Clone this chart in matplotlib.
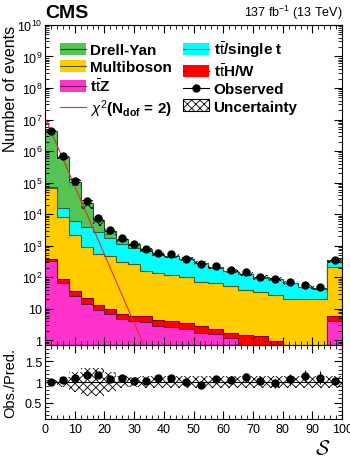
import numpy as np
import matplotlib
matplotlib.use('Agg')
import matplotlib.pyplot as plt
from matplotlib.patches import Patch
from matplotlib.lines import Line2D
from matplotlib.ticker import LogLocator, FuncFormatter, MultipleLocator, NullFormatter

plt.rcParams['font.family'] = ['Liberation Sans', 'DejaVu Sans']
plt.rcParams['mathtext.fontset'] = 'custom'
plt.rcParams['mathtext.rm'] = 'Liberation Sans'
plt.rcParams['mathtext.it'] = 'Liberation Sans:italic'
plt.rcParams['mathtext.bf'] = 'Liberation Sans:bold'
plt.rcParams['hatch.linewidth'] = 0.6
plt.rcParams['axes.unicode_minus'] = False

# bin edges: 4-wide up to 40, 5-wide up to 100 (last bin = overflow)
edges = np.array([0, 4, 8, 12, 16, 20, 24, 28, 32, 36, 40,
                  45, 50, 55, 60, 65, 70, 75, 80, 85, 90, 95, 100])

# expected events per process
ttz = [331, 63, 25.7, 14.1, 9.1, 6.6, 4.8, 4.0, 3.7, 2.9, 2.6,
       2.3, 1.74, 1.58, 1.2, 0.5, 0.4, 0.3, 0.3, 0.2, 0.2, 4.1]
tthw = [32, 24, 11.5, 7.3, 4.4, 2.9, 1.8, 2.0, 2.2, 1.5, 1.4,
        1.3, 1.1, 0.7, 0.54, 1.0, 1.0, 0.65, 0.33, 0.35, 0.3, 1.8]
multiboson = [65700, 7856, 2101, 891, 536, 469, 288, 251, 152, 127.6, 116,
              96.4, 69.5, 62.3, 50.8, 36.5, 32.5, 26, 20.3, 19.4, 19.5, 198]
ttbar = [4720, 7193, 4028, 2890, 2080, 1219, 827, 575, 518, 369, 337,
         272, 199, 132, 103, 83, 61.5, 59.8, 41.8, 26.9, 22.2, 131]
drellyan = [4.335e6, 638000, 98300, 17880, 3622, 1127, 459, 267, 77, 47, 27,
            12, 8, 6, 5, 4, 3, 3, 2, 2, 2, 5]
observed = np.array([4365000, 691800, 114800, 25120, 7244, 3020, 1738, 1122, 776, 603, 537,
                     380, 257, 219, 170, 141, 102, 87, 69, 56, 49, 347])
# relative systematic uncertainty on the prediction
unc_rel = np.array([0.05, 0.12, 0.25, 0.33, 0.33, 0.25, 0.15, 0.12, 0.15, 0.15, 0.15,
                    0.15, 0.15, 0.14, 0.14, 0.14, 0.15, 0.15, 0.15, 0.15, 0.15, 0.15])
# chi2 (2 dof) normalisation
chi2_scale = 2.3e7

labels = ['t$\\bar{\\rm t}$Z', 't$\\bar{\\rm t}$H/W', 'Multiboson', 't$\\bar{\\rm t}$/single t', 'Drell-Yan']
fcolors = ['#ff33cc', '#ff0000', '#ffcc00', '#00ffff', '#55c455']
ecolors = ['#6a1050', '#800000', '#4a5a20', '#1f6a50', '#1f5a1f']

stack = np.vstack([ttz, tthw, multiboson, ttbar, drellyan])
cum = np.cumsum(stack, axis=0)
total = cum[-1]
centers = 0.5 * (edges[:-1] + edges[1:])

fig = plt.figure(figsize=(3.5, 4.64), dpi=100)
ax = fig.add_axes([0.1286, 0.2543, 0.849, 0.6897])
ax2 = fig.add_axes([0.1286, 0.0948, 0.849, 0.1595])

# stacked histograms
for i in reversed(range(len(stack))):
    ax.stairs(cum[i], edges, baseline=1e-3, fill=True, color=fcolors[i], lw=0)
    ax.stairs(cum[i], edges, baseline=None, color=ecolors[i], lw=0.8)

# uncertainty band
lo = np.append(total * (1 - unc_rel), total[-1] * (1 - unc_rel[-1]))
hi = np.append(total * (1 + unc_rel), total[-1] * (1 + unc_rel[-1]))
ax.fill_between(edges, lo, hi, step='post', facecolor='none', edgecolor='k',
                hatch='xxxx', linewidth=0)

# chi2 curve
xs = np.linspace(0, 40, 300)
ax.plot(xs, chi2_scale * 0.5 * np.exp(-xs / 2), color='#e03030', lw=0.8)

ax.errorbar(centers, observed, yerr=np.sqrt(observed), fmt='o', color='k',
            ms=5, lw=0.8, capsize=0)

ax.set_xlim(0, 100)
ax.set_yscale('log')
ax.set_ylim(0.7, 1e10)
ax.yaxis.set_major_locator(LogLocator(base=10, numticks=20))
ax.yaxis.set_minor_locator(LogLocator(base=10, subs=np.arange(2, 10), numticks=20))
ax.yaxis.set_minor_formatter(NullFormatter())


def logfmt(v, p):
    n = int(round(np.log10(v)))
    if n == 0:
        return '1'
    if n == 1:
        return '10'
    return '$10^{%d}$' % n


ax.yaxis.set_major_formatter(FuncFormatter(logfmt))
ax.xaxis.set_major_locator(MultipleLocator(10))
ax.xaxis.set_minor_locator(MultipleLocator(2))
ax.tick_params(which='both', direction='in', top=True, right=True, labelbottom=False,
               labelsize=9, pad=2)
ax.tick_params(which='major', length=6)
ax.tick_params(which='minor', length=3, labelleft=False)

# ratio panel
ratio = observed / total
rerr = np.sqrt(observed) / total
ue = np.append(unc_rel, unc_rel[-1])
ax2.fill_between(edges, 1 - ue, 1 + ue, step='post', facecolor='none', edgecolor='k',
                 hatch='xxxx', linewidth=0)
ax2.axhline(1, color='k', lw=0.8)
ax2.errorbar(centers, ratio, yerr=rerr, fmt='o', color='k', ms=5, lw=0.8, capsize=0)
ax2.set_xlim(0, 100)
ax2.set_ylim(0.1, 1.9)
ax2.set_yticks([0.5, 1, 1.5])
ax2.set_yticklabels(['0.5', '1', '1.5'])
ax2.yaxis.set_minor_locator(MultipleLocator(0.1))
ax2.xaxis.set_major_locator(MultipleLocator(10))
ax2.xaxis.set_minor_locator(MultipleLocator(2))
ax2.tick_params(which='both', direction='in', top=True, right=True, labelsize=9, pad=2)
ax2.tick_params(axis='x', pad=3)
ax2.tick_params(which='major', length=6)
ax2.tick_params(which='minor', length=3, labelleft=False, labelbottom=False)

# legend
def h(i):
    return (Patch(facecolor=fcolors[i], edgecolor='none'),
            Line2D([], [], color=ecolors[i], lw=0.8))


handles = [h(4), h(2), h(0), Line2D([], [], color='#e03030', lw=0.8),
           h(3), h(1),
           Line2D([], [], color='k', marker='o', ms=5, lw=0.8),
           Patch(facecolor='white', edgecolor='k', hatch='xxxx', lw=0.8)]
names = ['Drell-Yan', 'Multiboson', labels[0], '$\\chi^{2}$(N$_{\\mathbf{dof}}$ = 2)',
         labels[3], labels[1], 'Observed', 'Uncertainty']
ax.legend(handles, names, ncol=2, loc='upper left', bbox_to_anchor=(0.05, 0.955),
          frameon=False, borderpad=0, borderaxespad=0, handlelength=1.7, handleheight=0.8,
          handletextpad=0.3, labelspacing=0.2, columnspacing=0.7,
          prop={'weight': 'bold', 'size': 11})

fig.text(0.129, 0.961, 'CMS', fontsize=14, fontweight='bold', ha='left', va='baseline')
fig.text(0.98, 0.963, '137 fb$^{-1}$ (13 TeV)', fontsize=9, ha='right', va='baseline')
fig.text(0.03, 0.944, 'Number of events', rotation=90, fontsize=11.5, ha='center', va='top')
fig.text(0.03, 0.175, 'Obs./Pred.', rotation=90, fontsize=10.5, ha='center', va='center')
fig.text(0.923, 0.032, r'$\mathcal{S}$', fontsize=15, ha='center', va='center', math_fontfamily='cm')

fig.savefig('out.png', dpi=100)
